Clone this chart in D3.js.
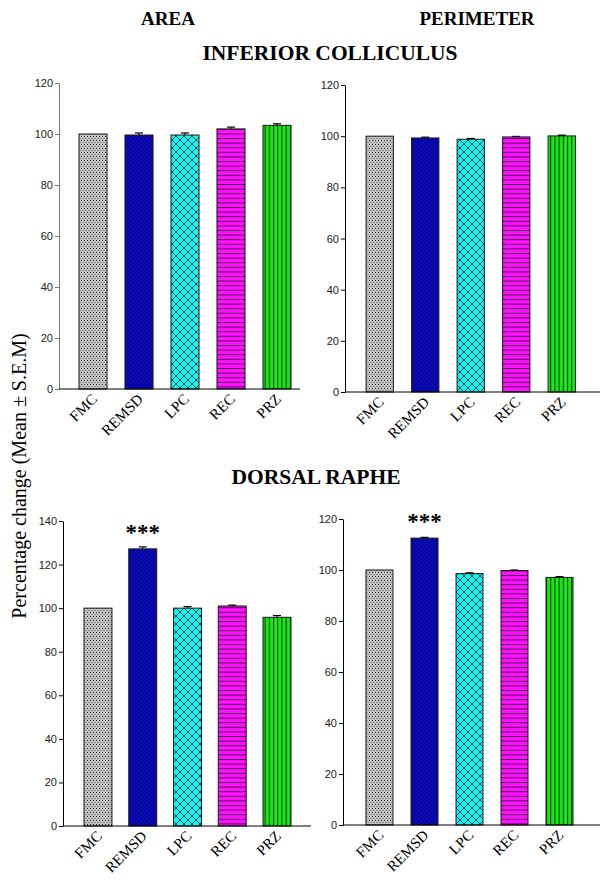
<!DOCTYPE html>
<html><head><meta charset="utf-8">
<script src="https://cdn.jsdelivr.net/npm/d3@7/dist/d3.min.js"></script>
<style>
html,body{margin:0;padding:0;background:#fff;}
svg{display:block;}
</style></head>
<body>
<svg id="chart" width="600" height="891"></svg>
<script>
// ---------- DATA ----------
const categories = ["FMC", "REMSD", "LPC", "REC", "PRZ"];
const icAreaMean  = [100, 99.6, 99.6, 102.0, 103.4];
const icAreaSem   = [0, 0.8, 0.8, 0.7, 0.6];
const icPerimMean = [100, 99.3, 98.8, 99.7, 100.1];
const icPerimSem  = [0, 0.3, 0.3, 0.2, 0.3];
const drAreaMean  = [100, 127.2, 100.0, 101.0, 95.8];
const drAreaSem   = [0, 0.9, 0.7, 0.4, 0.8];
const drPerimMean = [100, 112.5, 98.6, 99.8, 97.1];
const drPerimSem  = [0, 0.3, 0.3, 0.2, 0.3];
const ticks120 = [0, 20, 40, 60, 80, 100, 120];
const ticks140 = [0, 20, 40, 60, 80, 100, 120, 140];
const significant = ["", "***", "", "", ""];

// ---------- LAYOUT ----------
const svg = d3.select("#chart");
const defs = svg.append("defs");

function pat(id, w, h, bg, draw) {
  const p = defs.append("pattern").attr("id", id).attr("patternUnits", "userSpaceOnUse")
    .attr("width", w).attr("height", h);
  p.append("rect").attr("width", w).attr("height", h).attr("fill", bg);
  draw(p);
}
pat("pFMC", 3, 4, "#c4c4c4", p => {
  p.append("rect").attr("x", 0).attr("y", 0).attr("width", 1).attr("height", 1).attr("fill", "#222");
  p.append("rect").attr("x", 1.5).attr("y", 2).attr("width", 1).attr("height", 1).attr("fill", "#555");
});
pat("pREMSD", 4, 4, "#0c0cc0", p => {
  p.append("path").attr("d", "M-1,5 L5,-1 M-1,1 L1,-1 M3,5 L5,3").attr("stroke", "#000080").attr("stroke-width", 1.1);
});
pat("pLPC", 8, 8, "#10f4f4", p => {
  p.append("path").attr("d", "M0,0 L8,8 M8,0 L0,8").attr("stroke", "#103838").attr("stroke-width", 0.9);
});
pat("pREC", 8, 4.6, "#ff10ff", p => {
  p.append("rect").attr("x", 0).attr("y", 0).attr("width", 8).attr("height", 1).attr("fill", "#501050");
});
pat("pPRZ", 4.2, 8, "#18e818", p => {
  p.append("rect").attr("x", 0).attr("y", 0).attr("width", 1).attr("height", 8).attr("fill", "#063006");
});
const fills = ["url(#pFMC)", "url(#pREMSD)", "url(#pLPC)", "url(#pREC)", "url(#pPRZ)"];

const panels = [
  {mean: icAreaMean,  sem: icAreaSem,  ticks: ticks120, max: 120, axX: 59,  y0: 389, yTop: 83,  xr: [70, 300],  xEnd: 300, pi: 0.39, po: 0.195, axisColor: "#777", sig: false},
  {mean: icPerimMean, sem: icPerimSem, ticks: ticks120, max: 120, axX: 345, y0: 392, yTop: 85,  xr: [357, 584.5], xEnd: 600, pi: 0.4, po: 0.2, axisColor: "#000", sig: false},
  {mean: drAreaMean,  sem: drAreaSem,  ticks: ticks140, max: 140, axX: 63,  y0: 826, yTop: 521, xr: [75.5, 299.5], xEnd: 311, pi: 0.375, po: 0.19, axisColor: "#000", sig: true},
  {mean: drPerimMean, sem: drPerimSem, ticks: ticks120, max: 120, axX: 343, y0: 825, yTop: 519, xr: [357, 582],  xEnd: 600, pi: 0.4, po: 0.2, axisColor: "#000", sig: true}
];

const serif = "Liberation Serif, Times New Roman, serif";
const c45 = Math.SQRT1_2;

panels.forEach(P => {
  const g = svg.append("g");
  const y = d3.scaleLinear().domain([0, P.max]).range([P.y0, P.yTop]);
  const x = d3.scaleBand().domain(categories).range(P.xr).paddingInner(P.pi).paddingOuter(P.po);

  g.selectAll("rect.bar").data(categories).join("rect").attr("class", "bar")
    .attr("x", d => x(d)).attr("width", x.bandwidth())
    .attr("y", (d, i) => y(P.mean[i])).attr("height", (d, i) => y(0) - y(P.mean[i]))
    .attr("fill", (d, i) => fills[i]).attr("stroke", "#1a1a1a").attr("stroke-width", 1);

  categories.forEach((c, i) => {
    if (P.sem[i] <= 0) return;
    const cx = x(c) + x.bandwidth() / 2;
    g.append("line").attr("x1", cx).attr("x2", cx).attr("y1", y(P.mean[i])).attr("y2", y(P.mean[i] + P.sem[i]))
      .attr("stroke", "#000").attr("stroke-width", 1);
    g.append("line").attr("x1", cx - 4).attr("x2", cx + 4).attr("y1", y(P.mean[i] + P.sem[i])).attr("y2", y(P.mean[i] + P.sem[i]))
      .attr("stroke", "#000").attr("stroke-width", 1.2);
  });

  if (P.sig) {
    categories.forEach((c, i) => {
      if (!significant[i]) return;
      g.append("text").attr("x", x(c) + x.bandwidth() / 2)
        .attr("y", y(P.mean[i]) - 9)
        .attr("text-anchor", "middle").attr("font-family", serif)
        .attr("font-weight", "bold").attr("font-size", 23).text(significant[i]);
    });
  }

  const ya = g.append("g").attr("transform", `translate(${P.axX},0)`)
    .call(d3.axisLeft(y).tickValues(P.ticks).tickSize(4).tickSizeOuter(0).tickPadding(2));
  ya.select(".domain").attr("stroke", P.axisColor);
  ya.selectAll(".tick line").attr("stroke", P.axisColor);
  ya.selectAll(".tick text").attr("font-family", "Liberation Sans Narrow, Arial Narrow, Liberation Sans, Arial, sans-serif")
    .attr("font-size", 11).attr("fill", "#222");

  g.append("line").attr("x1", P.axX).attr("x2", P.xEnd).attr("y1", P.y0).attr("y2", P.y0)
    .attr("stroke", "#000").attr("stroke-width", 1);

  // rotated category labels (-45 degrees, via matrix)
  g.selectAll("text.xlab").data(categories).join("text").attr("class", "xlab")
    .attr("transform", d => `matrix(${c45},${-c45},${c45},${c45},${x(d) + x.bandwidth() / 2 + 5},${P.y0 + 11})`)
    .attr("text-anchor", "end").attr("font-family", serif).attr("font-size", 15).attr("fill", "#000")
    .text(d => d);
});

function title(txt, x, y, size) {
  svg.append("text").attr("x", x).attr("y", y).attr("text-anchor", "middle")
    .attr("font-family", serif).attr("font-weight", "bold").attr("font-size", size).text(txt);
}
title("AREA", 168, 25, 19);
title("PERIMETER", 477, 25, 19);
title("INFERIOR  COLLICULUS", 330, 60, 21.5);
title("DORSAL  RAPHE", 316, 484, 21.5);

svg.append("text").attr("transform", "translate(26,476) rotate(-90)")
  .attr("text-anchor", "middle").attr("font-family", serif).attr("font-size", 20)
  .text("Percentage change (Mean \u00B1 S.E.M)");
</script>
</body></html>
